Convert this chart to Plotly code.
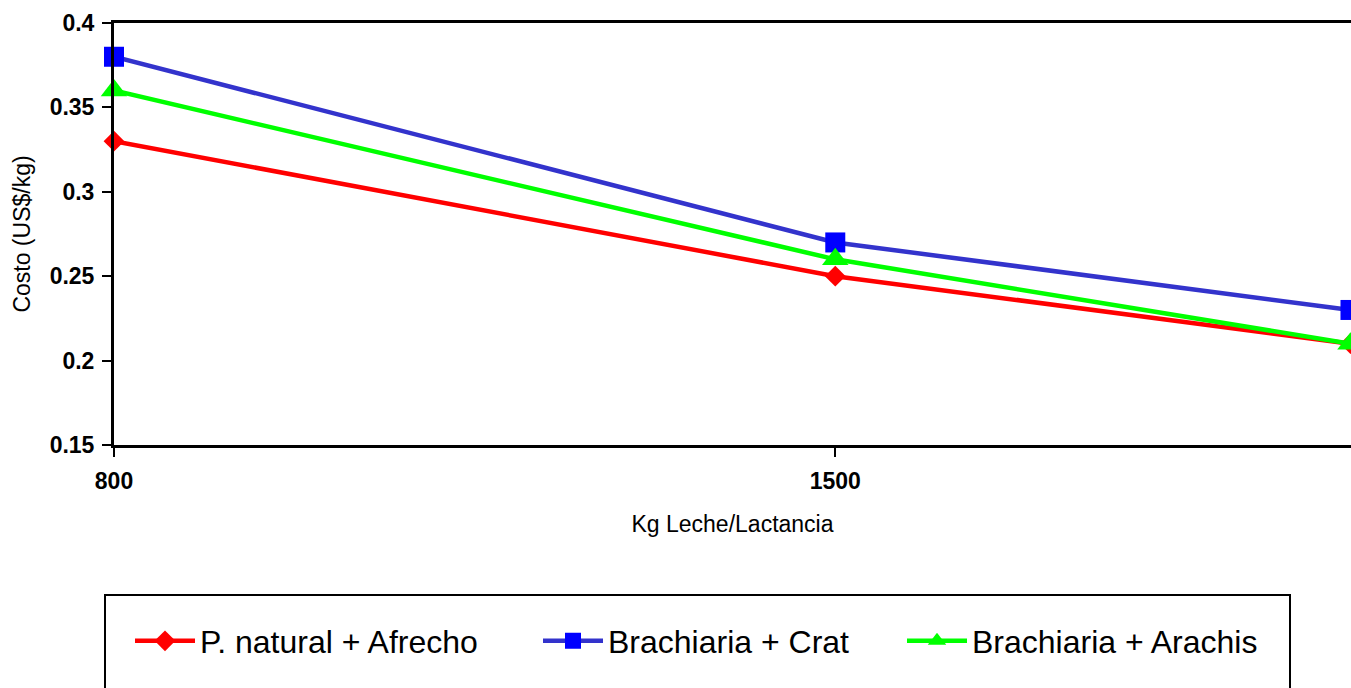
import plotly.graph_objects as go

leche = [800, 1500, 2000]
x_tick_vals = [800, 1500]
x_tick_text = ["800", "1500"]

p_natural_afrecho = [0.33, 0.25, 0.21]
brachiaria_crat = [0.38, 0.27, 0.23]
brachiaria_arachis = [0.36, 0.26, 0.21]

series = [
    ("P. natural + Afrecho", p_natural_afrecho, "#FF0000", "#FF0000", "diamond", 16, "legend"),
    ("Brachiaria + Crat", brachiaria_crat, "#3333CC", "#0000FF", "square", 20, "legend2"),
    ("Brachiaria + Arachis", brachiaria_arachis, "#00FF00", "#00FF00", "triangle-up", 23, "legend3"),
]

fig = go.Figure()
for name, vals, lc, mc, sym, sz, lg in series:
    fig.add_trace(go.Scatter(
        x=leche, y=vals, name=name, mode="lines+markers",
        line=dict(color=lc, width=4.5),
        marker=dict(color=mc, symbol=sym, size=sz, line=dict(width=0)),
        cliponaxis=False, legend=lg,
    ))

W, H = 1351, 688
L, R, T, B = 114, 0, 23, 243
ph = H - T - B
FONT = "Arial, Liberation Sans, sans-serif"


def legend_at(px):
    return dict(
        orientation="h", xref="container", yref="container",
        x=px / W, xanchor="left", y=1 - 641 / H, yanchor="middle",
        font=dict(size=32, family=FONT, color="black"),
        bgcolor="rgba(0,0,0,0)", borderwidth=0,
        itemwidth=60,
    )


fig.update_layout(
    width=W, height=H,
    margin=dict(l=L, r=R, t=T, b=B, pad=0),
    paper_bgcolor="white", plot_bgcolor="white",
    font=dict(family=FONT, color="black"),
    showlegend=True,
    legend=legend_at(130),
    legend2=legend_at(538),
    legend3=legend_at(902),
    xaxis=dict(
        range=[800, 2000.5], tickvals=x_tick_vals, ticktext=x_tick_text,
        showgrid=False, zeroline=False,
        showline=True, linecolor="black", linewidth=3, mirror=True,
        ticks="outside", ticklen=9, tickwidth=2, tickcolor="black",
        tickfont=dict(size=23, family=FONT, color="black", weight="bold"),
        ticklabelstandoff=4,
        title=dict(text="Kg Leche/Lactancia", font=dict(size=23), standoff=24),
    ),
    yaxis=dict(
        range=[0.15, 0.4], dtick=0.05, tick0=0.15,
        showgrid=False, zeroline=False,
        showline=True, linecolor="black", linewidth=3,
        ticks="outside", ticklen=9, tickwidth=2, tickcolor="black",
        tickfont=dict(size=23, family=FONT, color="black", weight="bold"),
        ticklabelstandoff=3,
        title=dict(text="Costo (US$/kg)", font=dict(size=23), standoff=13),
    ),
    shapes=[dict(
        type="rect", xref="paper", yref="paper",
        x0=(105 - L) / (W - L - R), x1=(1290 - L) / (W - L - R),
        y0=(H - B - 595) / ph, y1=(H - B - 705) / ph,
        line=dict(color="black", width=2), fillcolor="rgba(0,0,0,0)",
    )],
)

fig.write_html("out.html")
